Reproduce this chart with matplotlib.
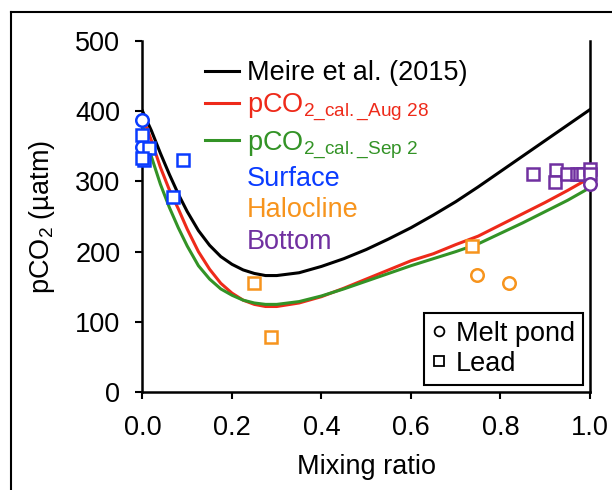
import matplotlib

matplotlib.use("Agg")

import matplotlib.pyplot as plt
from matplotlib.lines import Line2D

plt.rcParams["font.family"] = ["Liberation Sans", "DejaVu Sans"]
plt.rcParams["mathtext.fontset"] = "custom"
plt.rcParams["mathtext.rm"] = "Liberation Sans"
plt.rcParams["mathtext.it"] = "Liberation Sans:italic"

# mixing curves
mix_x = [0.0, 0.02, 0.04, 0.06, 0.08, 0.1, 0.125, 0.15, 0.175, 0.2, 0.225, 0.25,
         0.275, 0.3, 0.35, 0.4, 0.45, 0.5, 0.55, 0.6, 0.65, 0.7, 0.75, 0.8,
         0.85, 0.9, 0.95, 1.0]
meire = [400, 372, 340, 310, 282, 257, 230, 209, 193, 182, 174, 169,
         166, 166, 170, 179, 190, 203, 218, 234, 252, 271, 292, 314,
         336, 358, 380, 402]
cal_aug28 = [392, 358, 320, 288, 261, 232, 200, 175, 155, 141, 131, 125,
             122, 122, 127, 136, 148, 161, 174, 187, 197, 210, 222, 238,
             254, 270, 287, 305]
cal_sep2 = [380, 335, 296, 263, 234, 208, 180, 161, 147, 138, 131, 127,
            125, 125, 129, 137, 147, 158, 169, 180, 190, 200, 211, 226,
            241, 257, 273, 291]

# observations
surface_pond_x = [0.0, 0.0]
surface_pond_y = [387, 349]
surface_lead_x = [0.0, 0.015, 0.003, 0.0, 0.09, 0.069]
surface_lead_y = [366, 348, 330, 333, 330, 277]
halo_lead_x = [0.25, 0.287, 0.736]
halo_lead_y = [155, 79, 208]
halo_pond_x = [0.748, 0.82]
halo_pond_y = [167, 155]
bottom_lead_x = [0.873, 0.923, 0.922, 0.948, 0.97, 0.978, 0.985, 1.0, 1.0]
bottom_lead_y = [310, 316, 299, 310, 310, 310, 310, 318, 310]
bottom_pond_x = [1.0]
bottom_pond_y = [296]

BLUE = "#0a3cff"
ORANGE = "#f7941d"
PURPLE = "#7030a0"
RED = "#ee2a1a"
GREEN = "#339326"
FS = 19.5

fig = plt.figure(figsize=(6.12, 4.9), dpi=100)
ax = fig.add_axes([0.2328, 0.1994, 0.7312, 0.7176])

ax.plot(mix_x, meire, color="black", lw=2.2, zorder=3)
ax.plot(mix_x, cal_aug28, color=RED, lw=2.2, zorder=3)
ax.plot(mix_x, cal_sep2, color=GREEN, lw=2.2, zorder=3)

mk = dict(mfc="white", mew=1.8, ms=9, ls="none", clip_on=False, zorder=4)
ax.plot(surface_pond_x, surface_pond_y, "o", mec=BLUE, **mk)
ax.plot(surface_lead_x, surface_lead_y, "s", mec=BLUE, **mk)
ax.plot(halo_lead_x, halo_lead_y, "s", mec=ORANGE, **mk)
ax.plot(halo_pond_x, halo_pond_y, "o", mec=ORANGE, **mk)
ax.plot(bottom_lead_x, bottom_lead_y, "s", mec=PURPLE, **mk)
ax.plot(bottom_pond_x, bottom_pond_y, "o", mec=PURPLE, **mk)

ax.set_xlim(0, 1)
ax.set_ylim(0, 500)
ax.set_xticks([0, 0.2, 0.4, 0.6, 0.8, 1.0])
ax.set_xticklabels(["0.0", "0.2", "0.4", "0.6", "0.8", "1.0"])
ax.set_yticks([0, 100, 200, 300, 400, 500])
ax.tick_params(labelsize=FS, length=5, width=1.5, pad=11, direction="out")
ax.spines["top"].set_visible(False)
for s in ("left", "bottom", "right"):
    ax.spines[s].set_linewidth(1.8)
ax.set_xlabel("Mixing ratio", fontsize=FS, labelpad=10)
ax.set_ylabel(r"pCO$_\mathrm{2}$ (µatm)", fontsize=FS, labelpad=13)

none = Line2D([], [], color="none")
handles = [
    Line2D([], [], color="black", lw=2.2),
    Line2D([], [], color=RED, lw=2.2),
    Line2D([], [], color=GREEN, lw=2.2),
    none, none, none,
]
labels = [
    "Meire et al. (2015)",
    r"pCO$_\mathrm{2\_cal.\_Aug\ 28}$",
    r"pCO$_\mathrm{2\_cal.\_Sep\ 2}$",
    "Surface",
    "Halocline",
    "Bottom",
]
leg1 = ax.legend(handles, labels, loc="upper left", bbox_to_anchor=(0.14, 0.944),
                 frameon=False, fontsize=FS, handlelength=1.25, handletextpad=0.3,
                 labelspacing=0.2, borderpad=0, borderaxespad=0,
                 labelcolor=["black", RED, GREEN, BLUE, ORANGE, PURPLE])
ax.add_artist(leg1)

sym = dict(mfc="white", mec="black", mew=1.3, ms=7, ls="none")
leg2 = ax.legend([Line2D([], [], marker="o", **sym), Line2D([], [], marker="s", **sym)],
                 ["Melt pond", "Lead"], loc="lower right",
                 bbox_to_anchor=(0.984, 0.021), fontsize=FS, fancybox=False,
                 edgecolor="black", framealpha=1, handlelength=0.5,
                 handletextpad=0.35, borderpad=0.3, labelspacing=0.15,
                 borderaxespad=0)
leg2.get_frame().set_linewidth(1.5)

# figure frame (top and left edges)
ytop = 1 - 12 / 490
xleft = 11 / 612
fig.add_artist(Line2D([xleft, 1], [ytop, ytop], color="black", lw=1.5))
fig.add_artist(Line2D([xleft, xleft], [0, ytop], color="black", lw=1.5))

fig.savefig("out.png", dpi=100, facecolor="white")
